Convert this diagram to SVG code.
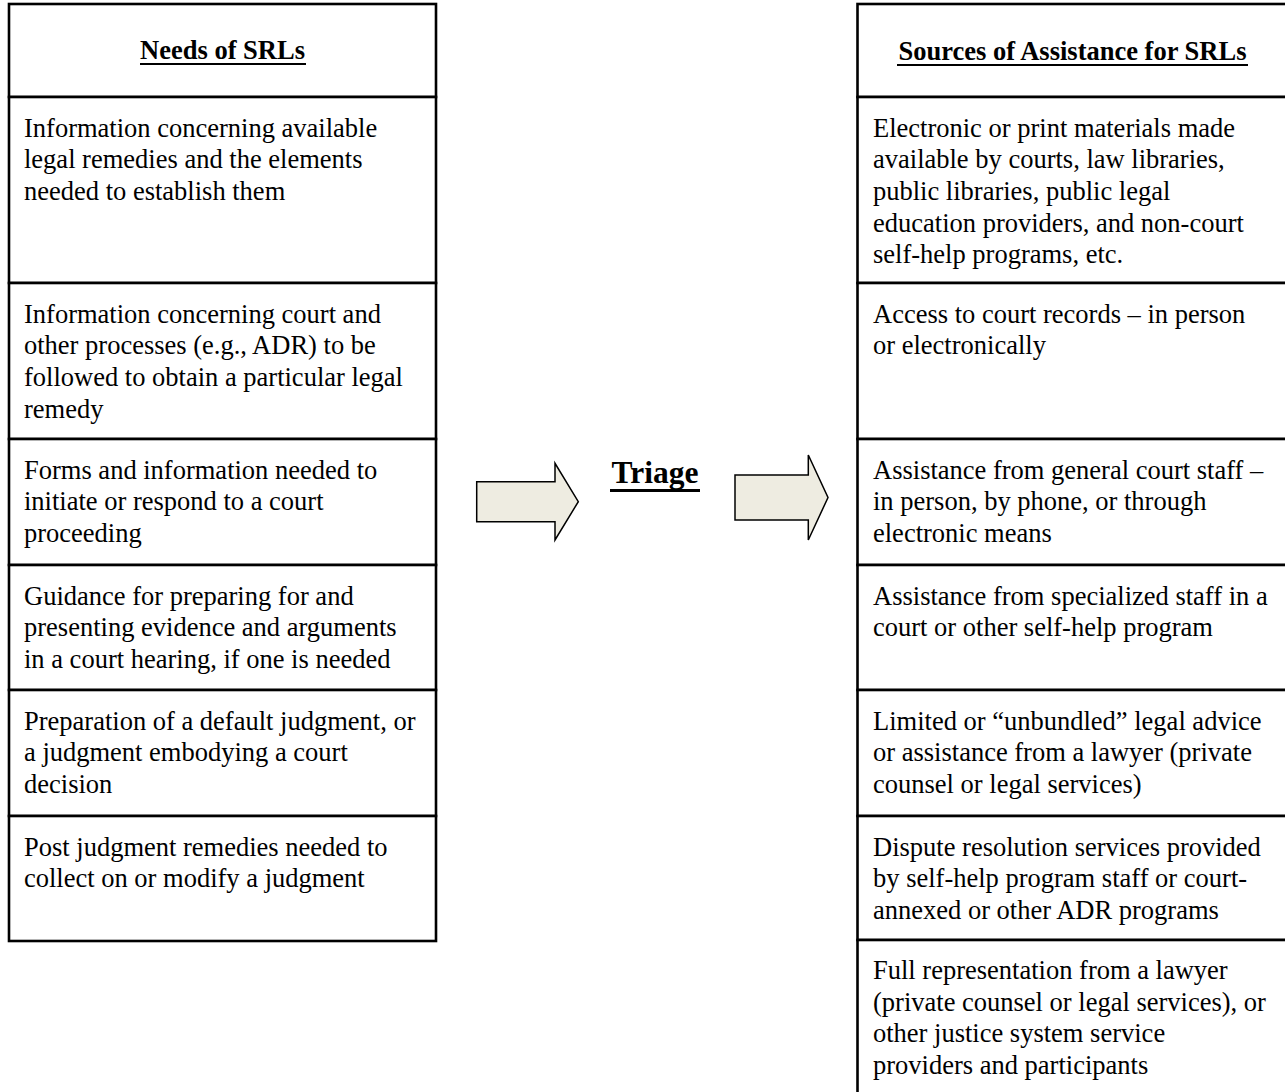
<svg xmlns="http://www.w3.org/2000/svg" width="1285" height="1092" viewBox="0 0 1285 1092">
<style>
.cell{fill:#ffffff;stroke:#000000;stroke-width:2.6}
.t{font-family:"Liberation Serif","Times New Roman",serif;font-size:26.5px;fill:#000000}
.h{font-family:"Liberation Serif","Times New Roman",serif;font-size:26.5px;font-weight:bold;fill:#000000}
.tri{font-family:"Liberation Serif","Times New Roman",serif;font-size:31.5px;font-weight:bold;fill:#000000}
.ul{stroke:#000000;stroke-width:2}
.arrow{fill:#EEECE1;stroke:#000000;stroke-width:1.5;stroke-linejoin:miter}
</style>
<rect width="1285" height="1092" fill="#ffffff"/>

<!-- Left table -->
<g id="left-header">
<rect class="cell" x="9" y="4" width="427" height="93"/>
<text class="h" x="222.5" y="59" text-anchor="middle">Needs of SRLs</text>
<line class="ul" x1="140" y1="64" x2="306" y2="64"/>
</g>
<g id="left-row1">
<rect class="cell" x="9" y="97" width="427" height="186"/>
<text class="t" x="24" y="136.5">Information concerning available</text>
<text class="t" x="24" y="168.2">legal remedies and the elements</text>
<text class="t" x="24" y="199.9">needed to establish them</text>
</g>
<g id="left-row2">
<rect class="cell" x="9" y="283" width="427" height="156"/>
<text class="t" x="24" y="322.5">Information concerning court and</text>
<text class="t" x="24" y="354.2">other processes (e.g., ADR) to be</text>
<text class="t" x="24" y="385.9">followed to obtain a particular legal</text>
<text class="t" x="24" y="417.6">remedy</text>
</g>
<g id="left-row3">
<rect class="cell" x="9" y="439" width="427" height="126"/>
<text class="t" x="24" y="478.5">Forms and information needed to</text>
<text class="t" x="24" y="510.2">initiate or respond to a court</text>
<text class="t" x="24" y="541.9">proceeding</text>
</g>
<g id="left-row4">
<rect class="cell" x="9" y="565" width="427" height="125"/>
<text class="t" x="24" y="604.5">Guidance for preparing for and</text>
<text class="t" x="24" y="636.2">presenting evidence and arguments</text>
<text class="t" x="24" y="667.9">in a court hearing, if one is needed</text>
</g>
<g id="left-row5">
<rect class="cell" x="9" y="690" width="427" height="126"/>
<text class="t" x="24" y="729.5">Preparation of a default judgment, or</text>
<text class="t" x="24" y="761.2">a judgment embodying a court</text>
<text class="t" x="24" y="792.9">decision</text>
</g>
<g id="left-row6">
<rect class="cell" x="9" y="816" width="427" height="125"/>
<text class="t" x="24" y="855.5">Post judgment remedies needed to</text>
<text class="t" x="24" y="887.2">collect on or modify a judgment</text>
</g>

<!-- Right table -->
<g id="right-header">
<rect class="cell" x="857.5" y="4" width="430" height="93"/>
<text class="h" x="1072.5" y="60" text-anchor="middle">Sources of Assistance for SRLs</text>
<line class="ul" x1="897" y1="65" x2="1248" y2="65"/>
</g>
<g id="right-row1">
<rect class="cell" x="857.5" y="97" width="430" height="186"/>
<text class="t" x="873" y="136.5">Electronic or print materials made</text>
<text class="t" x="873" y="168.2">available by courts, law libraries,</text>
<text class="t" x="873" y="199.9">public libraries, public legal</text>
<text class="t" x="873" y="231.6">education providers, and non-court</text>
<text class="t" x="873" y="263.3">self-help programs, etc.</text>
</g>
<g id="right-row2">
<rect class="cell" x="857.5" y="283" width="430" height="156"/>
<text class="t" x="873" y="322.5">Access to court records – in person</text>
<text class="t" x="873" y="354.2">or electronically</text>
</g>
<g id="right-row3">
<rect class="cell" x="857.5" y="439" width="430" height="126"/>
<text class="t" x="873" y="478.5">Assistance from general court staff –</text>
<text class="t" x="873" y="510.2">in person, by phone, or through</text>
<text class="t" x="873" y="541.9">electronic means</text>
</g>
<g id="right-row4">
<rect class="cell" x="857.5" y="565" width="430" height="125"/>
<text class="t" x="873" y="604.5">Assistance from specialized staff in a</text>
<text class="t" x="873" y="636.2">court or other self-help program</text>
</g>
<g id="right-row5">
<rect class="cell" x="857.5" y="690" width="430" height="126"/>
<text class="t" x="873" y="729.5">Limited or “unbundled” legal advice</text>
<text class="t" x="873" y="761.2">or assistance from a lawyer (private</text>
<text class="t" x="873" y="792.9">counsel or legal services)</text>
</g>
<g id="right-row6">
<rect class="cell" x="857.5" y="816" width="430" height="124"/>
<text class="t" x="873" y="855.5">Dispute resolution services provided</text>
<text class="t" x="873" y="887.2">by self-help program staff or court-</text>
<text class="t" x="873" y="918.9">annexed or other ADR programs</text>
</g>
<g id="right-row7">
<rect class="cell" x="857.5" y="940" width="430" height="160"/>
<text class="t" x="873" y="979">Full representation from a lawyer</text>
<text class="t" x="873" y="1010.7">(private counsel or legal services), or</text>
<text class="t" x="873" y="1042.4">other justice system service</text>
<text class="t" x="873" y="1074.1">providers and participants</text>
</g>

<!-- Triage -->
<g id="triage">
<text class="tri" x="655" y="483" text-anchor="middle">Triage</text>
<line x1="610" y1="490.5" x2="700" y2="490.5" stroke="#000000" stroke-width="2.8"/>
</g>

<!-- Connectors (block arrows) -->
<g id="connectors">
<polygon class="arrow" points="476.7,481.7 555,481.7 555,463.3 578.3,501.7 555,540 555,521.7 476.7,521.7"/>
<polygon class="arrow" points="735,475 808.3,475 808.3,455 828,497.5 808.3,540 808.3,520 735,520"/>
</g>
</svg>
